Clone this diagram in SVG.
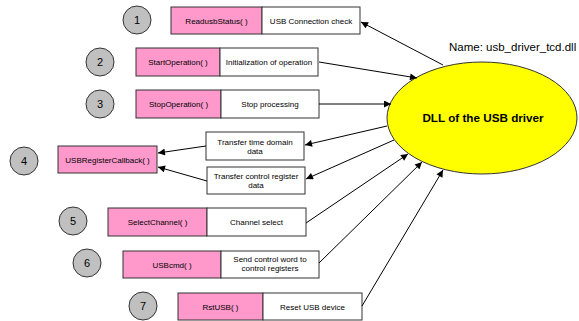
<svg xmlns="http://www.w3.org/2000/svg" width="579" height="321" viewBox="0 0 579 321">
<style>
.num{fill:#c0c0c0;stroke:#333;stroke-width:1}
.fn{fill:#ff99cc;stroke:#333;stroke-width:1}
.ds{fill:#fff;stroke:#333;stroke-width:1}
.t{font-family:"Liberation Sans",Arial,sans-serif;font-size:8px;fill:#000;text-anchor:middle}
.n{font-family:"Liberation Sans",Arial,sans-serif;font-size:11px;fill:#000;text-anchor:middle}
.c{stroke:#000;stroke-width:1;fill:none;marker-end:url(#ah)}
</style>
<defs>
<marker id="ah" viewBox="0 0 10 10" refX="10" refY="5" markerWidth="8" markerHeight="7" markerUnits="userSpaceOnUse" orient="auto">
<path d="M0,0 L10,5 L0,10 z" fill="#000"/>
</marker>
</defs>
<rect width="579" height="321" fill="#fff"/>
<g id="dll">
<ellipse cx="482" cy="118" rx="95" ry="56" fill="#ffff00" stroke="#333"/>
<text x="483" y="122" font-family="Liberation Sans,Arial,sans-serif" font-size="11.7" font-weight="bold" text-anchor="middle">DLL of the USB driver</text>
<text x="449" y="51" font-family="Liberation Sans,Arial,sans-serif" font-size="11.5">Name: usb_driver_tcd.dll</text>
</g>
<g id="row1">
<circle class="num" cx="137" cy="20" r="14"/><text class="n" x="137" y="24">1</text>
<rect class="fn" x="171" y="7" width="91" height="27"/><text class="t" x="216.5" y="23.5">ReadusbStatus( )</text>
<rect class="ds" x="262" y="7" width="98" height="27"/><text class="t" x="311" y="23.5">USB Connection check</text>
</g>
<g id="row2">
<circle class="num" cx="100" cy="62" r="14"/><text class="n" x="100" y="66">2</text>
<rect class="fn" x="136" y="48" width="84" height="28"/><text class="t" x="178" y="65">StartOperation( )</text>
<rect class="ds" x="220" y="48" width="98" height="28"/><text class="t" x="269" y="65">Initialization of operation</text>
</g>
<g id="row3">
<circle class="num" cx="100" cy="104" r="14"/><text class="n" x="100" y="108">3</text>
<rect class="fn" x="136" y="90" width="85" height="28"/><text class="t" x="178.5" y="107">StopOperation( )</text>
<rect class="ds" x="221" y="90" width="98" height="28"/><text class="t" x="270" y="107">Stop processing</text>
</g>
<g id="row4">
<circle class="num" cx="24" cy="161" r="14"/><text class="n" x="24" y="165">4</text>
<rect class="fn" x="58" y="146" width="99" height="27"/><text class="t" x="107.5" y="162.5">USBRegisterCallback( )</text>
</g>
<g id="ttd">
<rect class="ds" x="206" y="132" width="98" height="28"/>
<text class="t" x="255" y="144.5">Transfer time domain</text><text class="t" x="255" y="153.5">data</text>
</g>
<g id="tcr">
<rect class="ds" x="207" y="167" width="98" height="27"/>
<text class="t" x="256" y="179">Transfer control register</text><text class="t" x="256" y="188">data</text>
</g>
<g id="row5">
<circle class="num" cx="73" cy="221" r="14"/><text class="n" x="73" y="225">5</text>
<rect class="fn" x="108" y="208" width="99" height="28"/><text class="t" x="157.5" y="225">SelectChannel( )</text>
<rect class="ds" x="207" y="208" width="99" height="28"/><text class="t" x="256.5" y="225">Channel select</text>
</g>
<g id="row6">
<circle class="num" cx="87" cy="263" r="14"/><text class="n" x="87" y="267">6</text>
<rect class="fn" x="123" y="251" width="98" height="27"/><text class="t" x="172" y="267.5">USBcmd( )</text>
<rect class="ds" x="221" y="251" width="98" height="27"/>
<text class="t" x="270" y="262">Send control word to</text><text class="t" x="270" y="271">control registers</text>
</g>
<g id="row7">
<circle class="num" cx="143" cy="306" r="14"/><text class="n" x="143" y="310">7</text>
<rect class="fn" x="178" y="293" width="85" height="27"/><text class="t" x="220.5" y="309.5">RstUSB( )</text>
<rect class="ds" x="263" y="293" width="99" height="27"/><text class="t" x="312.5" y="309.5">Reset USB device</text>
</g>
<g id="connectors">
<line class="c" x1="443" y1="65" x2="361" y2="22"/>
<line class="c" x1="319" y1="62" x2="417" y2="78"/>
<line class="c" x1="319" y1="104" x2="391" y2="104"/>
<line class="c" x1="387" y1="126" x2="305" y2="145"/>
<line class="c" x1="394" y1="140" x2="306" y2="179"/>
<line class="c" x1="206" y1="146" x2="158" y2="153"/>
<line class="c" x1="207" y1="181" x2="158" y2="167"/>
<line class="c" x1="306" y1="223" x2="408" y2="154"/>
<line class="c" x1="319" y1="263" x2="422" y2="162"/>
<line class="c" x1="362" y1="306" x2="443" y2="170"/>
</g>
</svg>
